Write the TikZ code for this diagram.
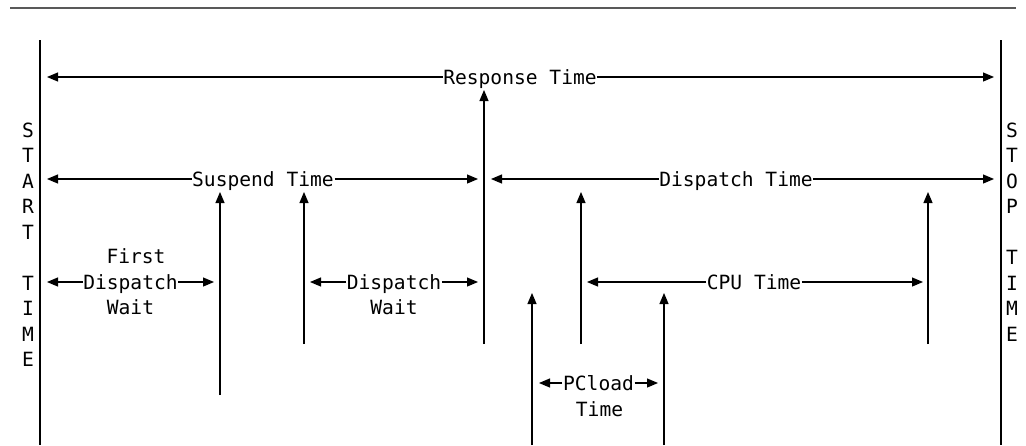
\documentclass[tikz,border=0pt]{standalone}
\usepackage{fontspec}
\setmonofont{DejaVu Sans Mono}
\usetikzlibrary{arrows.meta}
\begin{document}
\begin{tikzpicture}[x=1pt,y=-1pt,
  ln/.style={line width=1.2pt},
  arr/.style={line width=1.2pt,-{Triangle[length=11pt,width=9pt]}},
  lbl/.style={font=\ttfamily\fontsize{19.6}{24}\selectfont, inner xsep=0.5pt, inner ysep=0pt,
              text height=14pt, text depth=0pt},
  rule/.style={draw=black!65, line width=2pt}]
\useasboundingbox (0,0) rectangle (1026,445);
% top rule
\coordinate (ruleL) at (10,7.5);
\coordinate (ruleR) at (1016,7.5);
\draw[rule] (ruleL) -- (ruleR);
% start / stop lines
\coordinate (startT) at (40,40);  \coordinate (startB) at (40,445);
\coordinate (stopT) at (1001,40); \coordinate (stopB) at (1001,445);
\draw[ln] (startT) -- (startB);
\draw[ln] (stopT) -- (stopB);
\foreach \ch [count=\i from 0] in {S,T,A,R,T,{},T,I,M,E}
  \node[lbl] (start\i) at (28,{130+25.5*\i}) {\ch};
\foreach \ch [count=\i from 0] in {S,T,O,P,{},T,I,M,E}
  \node[lbl] (stop\i) at (1012,{130+25.5*\i}) {\ch};
% Response Time
\node[lbl] (resp) at (520,77) {Response Time};
\coordinate (respL) at (47,77); \coordinate (respR) at (994,77);
\draw[arr] (resp.west) -- (respL);
\draw[arr] (resp.east) -- (respR);
% Suspend Time
\node[lbl] (susp) at (263,179) {Suspend Time};
\coordinate (suspL) at (47,179); \coordinate (suspR) at (478,179);
\draw[arr] (susp.west) -- (suspL);
\draw[arr] (susp.east) -- (suspR);
% Dispatch Time
\node[lbl] (disp) at (736,179) {Dispatch Time};
\coordinate (dispL) at (491,179); \coordinate (dispR) at (994,179);
\draw[arr] (disp.west) -- (dispL);
\draw[arr] (disp.east) -- (dispR);
% First Dispatch Wait
\node[lbl] (fdw1) at (136,256) {First};
\node[lbl] (fdw2) at (130.5,282) {Dispatch};
\node[lbl] (fdw3) at (130.5,307) {Wait};
\coordinate (fdwL) at (47,282); \coordinate (fdwR) at (214,282);
\draw[arr] (fdw2.west) -- (fdwL);
\draw[arr] (fdw2.east) -- (fdwR);
% Dispatch Wait
\node[lbl] (dw1) at (394,282) {Dispatch};
\node[lbl] (dw2) at (394,307) {Wait};
\coordinate (dwL) at (310,282); \coordinate (dwR) at (478,282);
\draw[arr] (dw1.west) -- (dwL);
\draw[arr] (dw1.east) -- (dwR);
% CPU Time
\node[lbl] (cpu) at (754,282) {CPU Time};
\coordinate (cpuL) at (587,282); \coordinate (cpuR) at (923,282);
\draw[arr] (cpu.west) -- (cpuL);
\draw[arr] (cpu.east) -- (cpuR);
% PCload Time
\node[lbl] (pc1) at (598.5,383) {PCload};
\node[lbl] (pc2) at (599.5,409) {Time};
\coordinate (pcL) at (539,383); \coordinate (pcR) at (658,383);
\draw[arr] (pc1.west) -- (pcL);
\draw[arr] (pc1.east) -- (pcR);
% vertical event arrows
\coordinate (v1b) at (220,395); \coordinate (v1t) at (220,192);
\coordinate (v2b) at (304,344); \coordinate (v2t) at (304,192);
\coordinate (v3b) at (484,344); \coordinate (v3t) at (484,90);
\coordinate (v4b) at (581,344); \coordinate (v4t) at (581,192);
\coordinate (v5b) at (532,445); \coordinate (v5t) at (532,293);
\coordinate (v6b) at (664,445); \coordinate (v6t) at (664,293);
\coordinate (v7b) at (928,344); \coordinate (v7t) at (928,192);
\foreach \k in {1,...,7}
  \draw[arr] (v\k b) -- (v\k t);
\end{tikzpicture}
\end{document}
